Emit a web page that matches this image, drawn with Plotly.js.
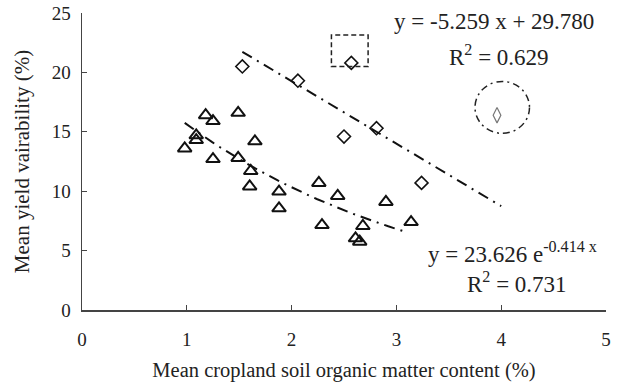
<!DOCTYPE html>
<html>
<head>
<meta charset="utf-8">
<script src="https://cdn.plot.ly/plotly-3.0.1.min.js"></script>
<style>html,body{margin:0;padding:0;background:#fff;}#chart{width:618px;height:388px;}</style>
</head>
<body>
<div id="chart"></div>
<script>
// Triangles (exponential group)
const triX = [0.98, 1.09, 1.09, 1.18, 1.25, 1.25, 1.49, 1.49, 1.65, 1.61, 1.60, 1.88, 1.88, 2.26, 2.44, 2.29, 2.68, 2.61, 2.65, 2.90, 3.14];
const triY = [13.6, 14.7, 14.3, 16.4, 15.9, 12.7, 16.6, 12.8, 14.2, 11.7, 10.4, 9.97, 8.56, 10.7, 9.6, 7.15, 7.07, 6.03, 5.75, 9.1, 7.4];
// Diamonds (linear group)
const diaX = [1.53, 2.06, 2.57, 2.50, 2.81, 3.24];
const diaY = [20.5, 19.3, 20.8, 14.6, 15.3, 10.7];
// Outlier (circled)
const outX = [3.96];
const outY = [16.4];
// Fitted equations shown on the chart
const linCoef = [-5.259, 29.780];   // y = a x + b
const linRange = [1.53, 4.0];
const expCoef = [23.626, -0.414];   // y = a e^(b x)
const expRange = [0.98, 3.08];
const xTicks = [0, 1, 2, 3, 4, 5];
const yTicks = [0, 5, 10, 15, 20, 25];

const linX = linRange, linY = linRange.map(x => linCoef[0] * x + linCoef[1]);
const expX = [], expY = [];
for (let i = 0; i <= 40; i++) {
  const x = expRange[0] + (expRange[1] - expRange[0]) * i / 40;
  expX.push(x); expY.push(expCoef[0] * Math.exp(expCoef[1] * x));
}

const font = 'Liberation Serif, Times New Roman, serif';
const dashdot = '11px,6px,2px,6px';
const data = [
  {x: linX, y: linY, mode: 'lines', line: {color: '#111', width: 2, dash: dashdot}, hoverinfo: 'skip'},
  {x: expX, y: expY, mode: 'lines', line: {color: '#111', width: 2, dash: dashdot}, hoverinfo: 'skip'},
  {x: triX, y: triY, mode: 'markers', marker: {symbol: 'triangle-up-open', size: 12, color: '#111', line: {width: 2, color: '#111'}}},
  {x: diaX, y: diaY, mode: 'markers', marker: {symbol: 'diamond-open', size: 10, color: '#111', line: {width: 1.6, color: '#111'}}},
  {x: outX, y: outY, mode: 'markers', marker: {symbol: 'diamond-tall-open', size: 11, color: '#777', line: {width: 1.2, color: '#777'}}}
];

const axisCommon = {
  showgrid: false, zeroline: false, showline: true, linecolor: '#444', linewidth: 1.5,
  ticks: 'inside', ticklen: 5, tickwidth: 1.2, tickcolor: '#444',
  tickfont: {family: font, size: 19, color: '#222'}, mirror: false
};

const annFont = {family: font, size: 23, color: '#222'};
const layout = {
  width: 618, height: 388,
  margin: {l: 82, r: 12, t: 13, b: 78},
  paper_bgcolor: '#fff', plot_bgcolor: '#fff',
  showlegend: false,
  xaxis: Object.assign({}, axisCommon, {
    range: [0, 5], tickvals: xTicks, ticktext: xTicks.map(String), ticklabelstandoff: 12,
    title: {text: 'Mean cropland soil organic matter content (%)', font: {family: font, size: 20.5, color: '#222'}, standoff: 13}
  }),
  yaxis: Object.assign({}, axisCommon, {
    range: [0, 25], tickvals: yTicks, ticktext: yTicks.map(String), ticklabelstandoff: 6,
    title: {text: 'Mean yield vairability (%)', font: {family: font, size: 21, color: '#222'}, standoff: 16}
  }),
  shapes: [
    {type: 'rect', xref: 'x', yref: 'y', x0: 2.38, x1: 2.73, y0: 20.5, y1: 23.15, line: {color: '#222', width: 1.5, dash: '5px,3px'}},
    {type: 'circle', xref: 'x', yref: 'y', x0: 3.75, x1: 4.27, y0: 14.87, y1: 19.24, line: {color: '#222', width: 1.5, dash: '7px,4px,2px,4px'}}
  ],
  annotations: [
    {xref: 'paper', yref: 'paper', x: 0.787, y: 0.971, xanchor: 'center', yanchor: 'middle', text: 'y = -5.259 x + 29.780', showarrow: false, font: annFont},
    {xref: 'paper', yref: 'paper', x: 0.796, y: 0.858, xanchor: 'center', yanchor: 'middle', text: 'R<sup>2</sup> = 0.629', showarrow: false, font: annFont},
    {xref: 'paper', yref: 'paper', x: 0.822, y: 0.195, xanchor: 'center', yanchor: 'middle', text: 'y = 23.626 e<sup>-0.414 x</sup>', showarrow: false, font: annFont},
    {xref: 'paper', yref: 'paper', x: 0.83, y: 0.092, xanchor: 'center', yanchor: 'middle', text: 'R<sup>2</sup> = 0.731', showarrow: false, font: annFont}
  ]
};

Plotly.newPlot('chart', data, layout, {staticPlot: true});
</script>
</body>
</html>
